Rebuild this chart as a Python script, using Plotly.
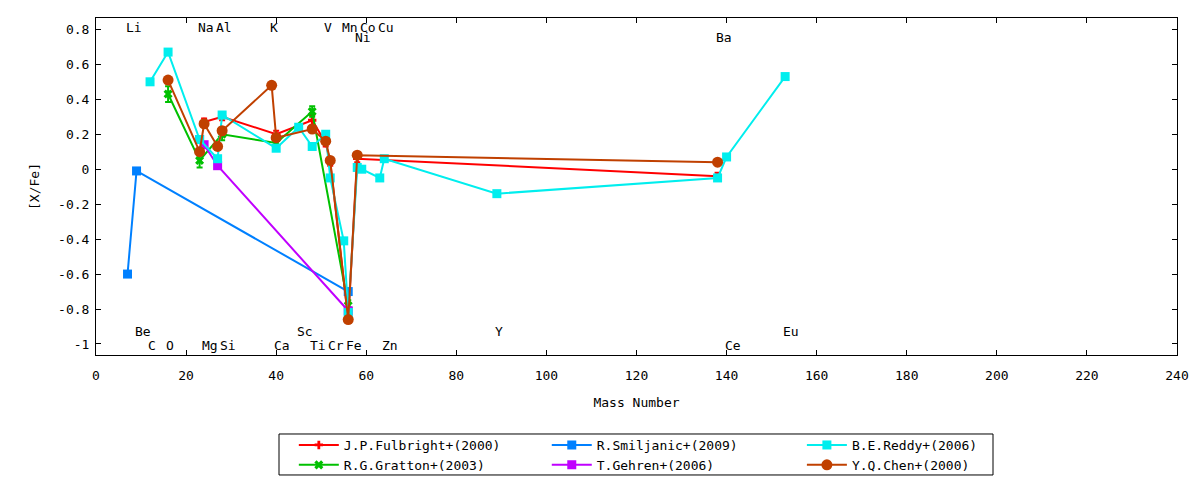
import plotly.graph_objects as go

# ---- data (mass number, [X/Fe]) ----
fulbright_x = [24, 28, 40, 48, 51, 52, 56, 58, 138]
fulbright_y = [0.27, 0.30, 0.20, 0.28, 0.15, 0.04, -0.86, 0.06, -0.04]
fulbright_e = [0.02, 0.02, 0.02, 0.03, 0.02, 0.02, 0.02, 0.02, 0.02]

gratton_x = [16, 23, 28, 40, 48, 56]
gratton_y = [0.43, 0.05, 0.20, 0.15, 0.33, -0.78]
gratton_e = [0.045, 0.04, 0.035, 0.02, 0.03, 0.03]

smiljanic_x = [7, 9, 56]
smiljanic_y = [-0.60, -0.01, -0.70]

gehren_x = [23, 24, 27, 56]
gehren_y = [0.17, 0.14, 0.02, -0.81]

reddy_x = [12, 16, 23, 27, 28, 40, 45, 48, 51, 52, 55, 56, 58, 59, 63, 64, 89, 138, 140, 153]
reddy_y = [0.50, 0.67, 0.17, 0.06, 0.31, 0.12, 0.24, 0.13, 0.20, -0.05, -0.41, -0.82,
           0.01, 0.00, -0.05, 0.06, -0.14, -0.05, 0.07, 0.53]

chen_x = [16, 23, 24, 27, 28, 39, 40, 48, 51, 52, 56, 58, 138]
chen_y = [0.51, 0.10, 0.26, 0.13, 0.22, 0.48, 0.18, 0.23, 0.16, 0.05, -0.86, 0.08, 0.04]

# element labels: name, mass number, label height
elem_names = ["Li", "Na", "Al", "K", "V", "Mn", "Co", "Cu", "Ni", "Ba",
              "Be", "Sc", "Y", "Eu",
              "C", "O", "Mg", "Si", "Ca", "Ti", "Cr", "Fe", "Zn", "Ce"]
elem_mass = [7, 23, 27, 39, 51, 55, 59, 63, 58, 138,
             9, 45, 89, 153,
             12, 16, 24, 28, 40, 48, 52, 56, 64, 140]
elem_level = [0.81, 0.81, 0.81, 0.81, 0.81, 0.81, 0.81, 0.81, 0.755, 0.755,
              -0.926, -0.926, -0.926, -0.926,
              -1.006, -1.006, -1.006, -1.006, -1.006, -1.006, -1.006, -1.006, -1.006, -1.006]

FONT = "DejaVu Sans Mono"
FS = 13

fig = go.Figure()

def add(name, x, y, color, symbol, size, legend, err=None):
    kw = {}
    if err is not None:
        kw["error_y"] = dict(type="data", array=err, visible=True, color=color,
                             thickness=2, width=3)
    fig.add_trace(go.Scatter(
        x=x, y=y, name=name, mode="lines+markers", legend=legend,
        line=dict(color=color, width=2),
        marker=dict(color=color, symbol=symbol, size=size, line=dict(width=0)),
        **kw))

add("J.P.Fulbright+(2000)", fulbright_x, fulbright_y, "#ff0000", "cross", 7, "legend", fulbright_e)
add("R.G.Gratton+(2003)", gratton_x, gratton_y, "#00c000", "x", 8, "legend", gratton_e)
add("R.Smiljanic+(2009)", smiljanic_x, smiljanic_y, "#0080ff", "square", 9, "legend2")
add("T.Gehren+(2006)", gehren_x, gehren_y, "#c000ff", "square", 9, "legend2")
add("B.E.Reddy+(2006)", reddy_x, reddy_y, "#00eeee", "square", 9, "legend3")
add("Y.Q.Chen+(2000)", chen_x, chen_y, "#c04000", "circle", 11, "legend3")

for n, m, lv in zip(elem_names, elem_mass, elem_level):
    fig.add_annotation(x=m, y=lv, text=n, showarrow=False, xanchor="left",
                       yanchor="middle", xshift=-4,
                       font=dict(family=FONT, size=FS, color="black"))

axis_common = dict(showgrid=False, zeroline=False, showline=True, linecolor="black",
                   linewidth=1, mirror="ticks", ticks="inside", ticklen=5,
                   tickcolor="black", automargin=False,
                   tickfont=dict(family=FONT, size=FS, color="black"))

fig.update_xaxes(range=[0, 240], dtick=20, tick0=0, ticklabelstandoff=8,
                 title=dict(text="Mass Number", font=dict(family=FONT, size=FS, color="black"),
                            standoff=16),
                 **axis_common)
fig.update_yaxes(range=[-1.063, 0.865], tickvals=[-1, -0.8, -0.6, -0.4, -0.2, 0, 0.2, 0.4, 0.6, 0.8],
                 ticktext=["-1", "-0.8", "-0.6", "-0.4", "-0.2", "0", "0.2", "0.4", "0.6", "0.8"],
                 ticklabelstandoff=3,
                 title=dict(text="[X/Fe]", font=dict(family=FONT, size=FS, color="black"),
                            standoff=15),
                 **axis_common)

leg_common = dict(orientation="v", yanchor="top", xanchor="left", y=-0.2226,
                  bgcolor="rgba(0,0,0,0)", borderwidth=0, tracegroupgap=0, itemwidth=40,
                  font=dict(family=FONT, size=FS, color="black"))

# page body adds an 8px offset; margins compensate so the plot box sits where the reference's does
fig.update_layout(
    width=1200, height=480,
    margin=dict(l=88, r=31, t=10, b=133, autoexpand=False),
    plot_bgcolor="white", paper_bgcolor="white",
    font=dict(family=FONT, size=FS, color="black"),
    legend=dict(x=0.183, **leg_common),
    legend2=dict(x=0.417, **leg_common),
    legend3=dict(x=0.653, **leg_common),
    showlegend=True,
)
# frame around the key
fig.add_shape(type="rect", xref="paper", yref="paper", x0=0.1693, x1=0.8298,
              y0=-0.356, y1=-0.2344, line=dict(color="black", width=1))

fig.write_html("out.html")
